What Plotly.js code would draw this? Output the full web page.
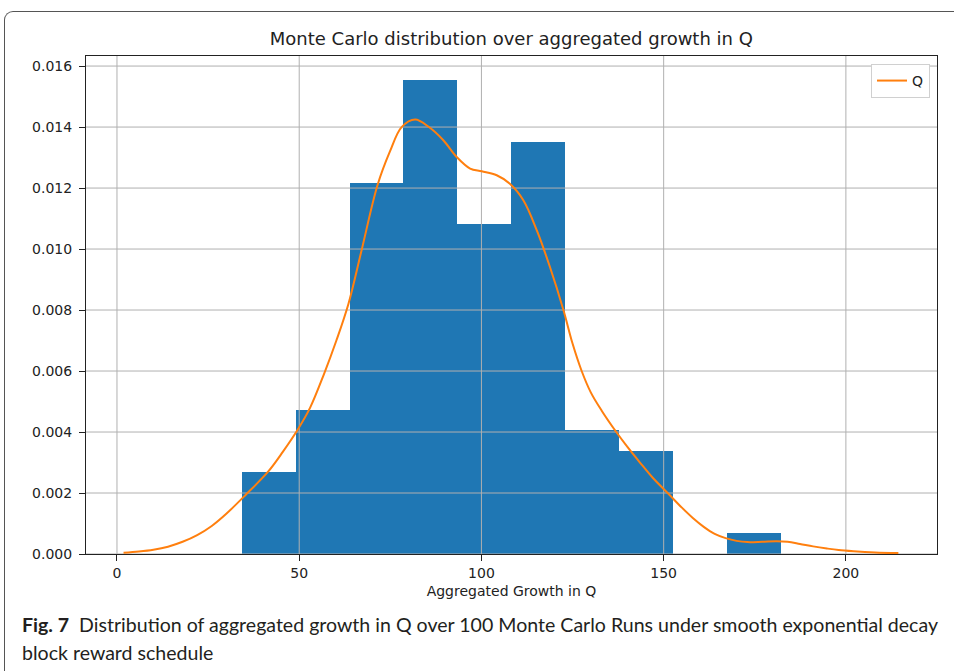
<!DOCTYPE html>
<html><head><meta charset="utf-8">
<script src="https://cdn.plot.ly/plotly-3.0.1.min.js"></script>
<style>
html,body{margin:0;padding:0;background:#fff;overflow:hidden;}
#wrap{position:relative;width:954px;height:671px;}
#frame{position:absolute;left:4px;top:11px;width:1000px;height:700px;border-left:1px solid #555;border-top:1px solid #555;border-top-left-radius:9px;}
#chart{position:absolute;left:0;top:0;width:954px;height:671px;}
#caption{position:absolute;left:22px;top:611px;font-family:Lato,'Noto Sans',sans-serif;font-size:19px;line-height:28px;color:#231f20;white-space:nowrap;transform-origin:0 0;}
</style></head>
<body>
<div id="wrap">
<div id="frame"></div>
<div id="chart"></div>
<div id="caption"><span id="l1"><b>Fig. 7</b>&nbsp; Distribution of aggregated growth in Q over 100 Monte Carlo Runs under smooth exponential decay</span><br>block reward schedule</div>
</div>
<script>
// Histogram (density)
const binLeft = [34.2, 49.0, 63.8, 78.6, 93.4, 108.2, 123.0, 137.8, 152.6, 167.4];
const binWidth = 14.8;
const density = [0.00270, 0.00473, 0.01216, 0.01554, 0.01081, 0.01351, 0.00405, 0.00338, 0.0, 0.00068];

// KDE curve "Q"
const kdeX = [1.8, 6.0, 10.0, 14.0, 18.0, 22.0, 26.0, 30.0, 35.4, 41.4, 45.5, 49.7, 53.0, 56.8, 60.2, 63.5, 67.0, 71.5, 74.9, 78.1, 81.8, 85.6, 89.6, 93.2, 96.9, 100.1, 104.2, 107.8, 111.5, 115.2, 118.8, 122.5, 125.0, 127.5, 130.0, 133.0, 137.0, 140.0, 143.5, 147.0, 151.5, 155.0, 158.0, 161.0, 164.0, 167.0, 170.0, 173.0, 177.0, 181.0, 184.0, 187.4, 191.0, 194.8, 198.0, 202.1, 208.0, 214.4];
const kdeY = [0.00004, 0.00008, 0.00014, 0.00024, 0.00040, 0.00062, 0.00092, 0.00132, 0.00195, 0.00269, 0.00335, 0.0041, 0.0048, 0.0059, 0.0070, 0.0082, 0.0099, 0.0121, 0.0132, 0.0140, 0.01425, 0.0140, 0.01356, 0.01302, 0.01264, 0.01255, 0.01242, 0.01214, 0.0116, 0.01061, 0.00941, 0.0080, 0.0069, 0.0060, 0.0053, 0.0047, 0.0040, 0.00352, 0.00300, 0.00250, 0.00195, 0.00152, 0.00118, 0.00089, 0.00066, 0.00052, 0.00043, 0.00039, 0.00040, 0.00042, 0.00040, 0.00033, 0.00025, 0.00018, 0.00013, 0.00009, 0.00005, 0.00003];

const xTicks = [0, 50, 100, 150, 200];
const yTicks = [0, 0.002, 0.004, 0.006, 0.008, 0.010, 0.012, 0.014, 0.016];

const xRange = [-8.5, 225.0];
const yRange = [0, 0.01633];

// grid lines drawn between bars and curve (as in matplotlib)
const gx = [], gy = [];
xTicks.forEach(t => { gx.push(t, t, null); gy.push(yRange[0], yRange[1], null); });
yTicks.forEach(t => { gx.push(xRange[0], xRange[1], null); gy.push(t, t, null); });

const traces = [
  {type:'bar', x:binLeft, y:density, width:binWidth, offset:0,
   marker:{color:'#1f77b4', line:{width:0}}, showlegend:false, hoverinfo:'skip'},
  {type:'scatter', mode:'lines', x:gx, y:gy, line:{color:'#b0b0b0', width:1},
   showlegend:false, hoverinfo:'skip', connectgaps:false},
  {type:'scatter', mode:'lines', name:'Q', x:kdeX, y:kdeY,
   line:{color:'#ff7f0e', width:2, shape:'spline', smoothing:1}}
];

const font = {family:'DejaVu Sans', size:14, color:'#222'};
const layout = {
  width:954, height:671,
  margin:{l:86, r:17, t:56, b:117, autoexpand:false},
  paper_bgcolor:'rgba(0,0,0,0)', plot_bgcolor:'#fff',
  font:font,
  title:{text:'Monte Carlo distribution over aggregated growth in Q', font:{family:'DejaVu Sans', size:18, color:'#222'},
         x:0.536, xanchor:'center', xref:'container', y:1-39/671, yref:'container', yanchor:'middle'},
  bargap:0,
  xaxis:{range:xRange, tickvals:xTicks, ticktext:xTicks.map(String), showgrid:false, zeroline:false,
         showline:true, mirror:true, linecolor:'#222', linewidth:1, ticks:'outside', ticklen:6, tickcolor:'#222',
         title:{text:'Aggregated Growth in Q', font:{family:'DejaVu Sans', size:14, color:'#222'}, standoff:6}},
  yaxis:{range:yRange, tickvals:yTicks, ticktext:yTicks.map(v => v.toFixed(3)), showgrid:false, zeroline:false,
         showline:true, mirror:true, linecolor:'#222', linewidth:1, ticks:'outside', ticklen:6, tickcolor:'#222',
         ticklabelstandoff:4},
  legend:{x:0.9918, xanchor:'right', y:0.984, yanchor:'top', bgcolor:'#fff', bordercolor:'#d0d0d0', borderwidth:1,
          font:{family:'DejaVu Sans', size:14, color:'#222'}},
  showlegend:true
};

Plotly.newPlot('chart', traces, layout, {displayModeBar:false, staticPlot:true}).then(() => {
  const l1 = document.getElementById('l1');
  const w = l1.getBoundingClientRect().width;
  const s = 916 / w;
  document.getElementById('caption').style.transform = 'scaleX(' + s + ')';
});
</script>
</body></html>
